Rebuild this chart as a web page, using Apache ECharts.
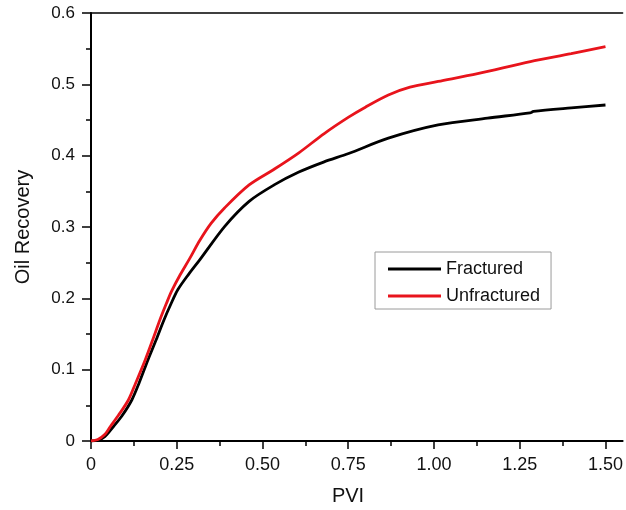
<!DOCTYPE html>
<html>
<head>
<meta charset="utf-8">
<script src="https://cdn.jsdelivr.net/npm/echarts@6/dist/echarts.min.js"></script>
<style>html,body{margin:0;padding:0;background:#fff}#c{width:626px;height:510px}</style>
</head>
<body>
<div id="c"></div>
<script>
const seriesNames = ["Fractured", "Unfractured"];
const fracturedPVI = [0, 0.02, 0.04, 0.065, 0.09, 0.119, 0.14, 0.166, 0.19, 0.213, 0.233, 0.253, 0.285, 0.317, 0.39, 0.461, 0.534, 0.606, 0.678, 0.751, 0.867, 1.012, 1.156, 1.28, 1.29, 1.40, 1.50];
const fracturedRec = [0, 0.001, 0.006, 0.020, 0.035, 0.0575, 0.081, 0.1136, 0.142, 0.170, 0.192, 0.212, 0.234, 0.254, 0.301, 0.336, 0.359, 0.377, 0.391, 0.403, 0.4245, 0.443, 0.4526, 0.460, 0.462, 0.467, 0.471];
const unfracturedPVI = [0, 0.02, 0.04, 0.056, 0.08, 0.109, 0.13, 0.158, 0.18, 0.201, 0.22, 0.235, 0.26, 0.288, 0.317, 0.35, 0.39, 0.461, 0.534, 0.606, 0.68, 0.751, 0.80, 0.867, 0.93, 1.012, 1.127, 1.281, 1.40, 1.50];
const unfracturedRec = [0, 0.002, 0.009, 0.020, 0.036, 0.0575, 0.081, 0.1136, 0.142, 0.170, 0.193, 0.210, 0.233, 0.256, 0.281, 0.305, 0.327, 0.359, 0.381, 0.404, 0.431, 0.454, 0.468, 0.485, 0.496, 0.504, 0.515, 0.532, 0.543, 0.553];
const xMajorTicks = [0, 0.25, 0.5, 0.75, 1.0, 1.25, 1.5];
const xTickLabels = ["0", "0.25", "0.50", "0.75", "1.00", "1.25", "1.50"];
const xMinorTicks = [0.125, 0.375, 0.625, 0.875, 1.125, 1.375];
const yTickLabels = ["0", "0.1", "0.2", "0.3", "0.4", "0.5", "0.6"];

const FONT = "Liberation Sans, Arial, sans-serif";
const chart = echarts.init(document.getElementById('c'), null, {renderer: 'canvas'});
const zip = (xs, ys) => xs.map((x, i) => [x, ys[i]]);
const XMIN = 0, XMAX = 1.55;

chart.setOption({
  animation: false,
  backgroundColor: '#fff',
  grid: {left: 91, right: 0, top: 13, bottom: 69, containLabel: false},
  xAxis: [
    {
      type: 'value', position: 'bottom', min: XMIN, max: XMAX,
      splitLine: {show: false},
      axisLine: {show: true, lineStyle: {color: '#000', width: 2}},
      axisTick: {show: true, inside: false, length: 8, lineStyle: {color: '#000', width: 1.5}, customValues: xMajorTicks},
      axisLabel: {
        show: true, margin: 15, color: '#111', fontSize: 18, fontFamily: FONT,
        customValues: xMajorTicks,
        formatter: v => { const i = xMajorTicks.findIndex(t => Math.abs(t - v) < 1e-6); return i >= 0 ? xTickLabels[i] : ''; }
      }
    },
    {
      type: 'value', position: 'bottom', min: XMIN, max: XMAX,
      splitLine: {show: false},
      axisLine: {show: false},
      axisTick: {show: true, length: 5, lineStyle: {color: '#000', width: 1.5}, customValues: xMinorTicks},
      axisLabel: {show: false}
    },
    {
      type: 'value', position: 'top', min: XMIN, max: XMAX,
      splitLine: {show: false},
      axisLine: {show: true, lineStyle: {color: '#000', width: 1.5}},
      axisTick: {show: false},
      axisLabel: {show: false}
    }
  ],
  yAxis: {
    type: 'value', min: 0, max: 0.6, interval: 0.1,
    name: 'Oil Recovery', nameLocation: 'middle', nameGap: 58,
    nameTextStyle: {fontSize: 20, color: '#111', fontFamily: FONT},
    splitLine: {show: false},
    axisLine: {show: true, lineStyle: {color: '#000', width: 2}},
    axisTick: {show: true, length: 9, lineStyle: {color: '#000', width: 1.5}},
    minorTick: {show: true, splitNumber: 2, length: 5, lineStyle: {color: '#000', width: 1.5}},
    axisLabel: {
      margin: 16, color: '#111', fontSize: 17, fontFamily: FONT,
      formatter: v => { const i = Math.round(v * 10); return yTickLabels[i] !== undefined ? yTickLabels[i] : ''; }
    }
  },
  legend: {
    show: true, orient: 'vertical', left: 375, top: 252,
    data: seriesNames,
    icon: 'rect', itemWidth: 53, itemHeight: 3, itemGap: 9,
    padding: [8, 11, 4, 13],
    borderColor: '#9a9a9a', borderWidth: 1, backgroundColor: '#fff',
    textStyle: {fontSize: 18, color: '#111', fontFamily: FONT}
  },
  graphic: [
    {type: 'text', x: 348, y: 496, style: {text: 'PVI', fontSize: 20, fontFamily: FONT, fill: '#111', textAlign: 'center', textVerticalAlign: 'middle'}}
  ],
  series: [
    {
      name: seriesNames[0], type: 'line', xAxisIndex: 0,
      data: zip(fracturedPVI, fracturedRec),
      showSymbol: false, symbol: 'none', smooth: 0.3,
      lineStyle: {color: '#000', width: 2.8}, itemStyle: {color: '#000'}
    },
    {
      name: seriesNames[1], type: 'line', xAxisIndex: 0,
      data: zip(unfracturedPVI, unfracturedRec),
      showSymbol: false, symbol: 'none', smooth: 0.3,
      lineStyle: {color: '#e8141c', width: 2.8}, itemStyle: {color: '#e8141c'}
    }
  ]
});
</script>
</body>
</html>
